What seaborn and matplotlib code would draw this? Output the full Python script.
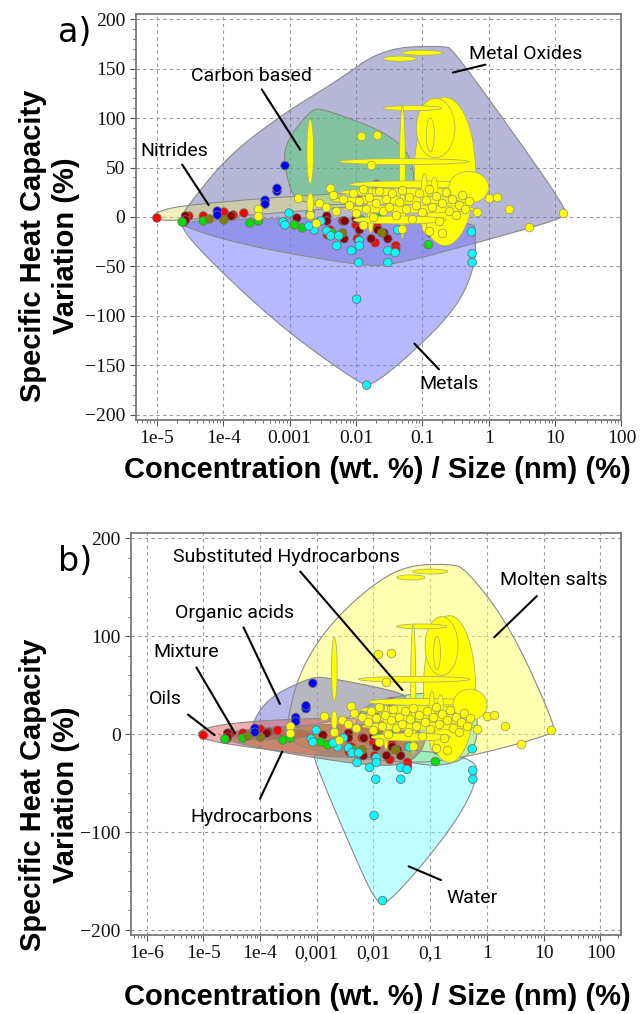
import numpy as np
import pandas as pd
import matplotlib
matplotlib.use("Agg")
import matplotlib.pyplot as plt
import seaborn as sns
from matplotlib.ticker import FixedLocator, LogLocator, NullFormatter, MultipleLocator

# ---- data: (log10 concentration, variation %) ----
red = [(-5.0, -1), (-4.59, -5), (-4.52, 1), (-4.3, 1), (-3.99, 5), (-3.85, 2), (-3.69, 4),
       (-2.39, -13), (-2.2, -4), (-1.98, -22), (-1.71, -26), (-1.4, -29), (-1.4, -33),
       (-1.95, 17), (-2.0, -8), (-1.68, -10), (-2.43, -18)]
darkred = [(-4.57, 1), (-4.57, -3), (-3.88, 1), (-2.89, -1), (-2.44, 1), (-2.44, -4),
           (-2.17, -4), (-1.95, -13), (-1.8, -4), (-1.67, -13), (-1.58, -16), (-1.52, -22),
           (-0.88, -16), (-2.18, -22), (-1.77, -22), (-2.0, -2)]
green = [(-4.3, -4), (-3.6, -6), (-3.47, -4), (-2.93, -8), (-2.81, -11), (-1.92, -3),
         (-1.64, -1), (-0.91, -28), (-0.75, -21), (-2.36, -16), (-4.62, -5)]
olive = [(-4.21, -2), (-3.99, -3), (-2.2, -16), (-1.61, -16)]
blue = [(-3.07, 52), (-3.19, 26), (-3.19, 29), (-3.37, 17), (-3.37, 13), (-4.09, 6), (-4.09, 2)]
cyan = [(-3.01, 4), (-3.1, -5), (-3.07, -8), (-2.69, 4), (-2.63, -13), (-2.44, -14),
        (-2.38, -19), (-2.26, -19), (-2.07, -34), (-1.95, -24), (-1.95, -29), (-1.96, -46),
        (-1.99, -83), (-1.84, -170), (-1.52, -34), (-1.52, -46), (-1.41, -36), (-1.37, -13),
        (-0.26, -15), (-0.25, -37), (-0.25, -46), (-2.29, -29), (-2.53, -4), (-2.71, -9)]
teal = [(-0.51, 26), (-0.51, 17)]
magenta = [(-1.69, 33)]
yellow = [(-1.92, 82), (-1.69, 83), (-1.78, 53), (-2.39, 29), (-2.87, 19), (-3.48, 8),
          (-3.48, 1), (0.0, 19), (0.12, 20), (0.31, 8), (0.6, -10), (1.12, 4), (-0.17, 5),
          (-2.55, 14), (-2.45, 10), (-2.35, 22), (-2.3, 6), (-2.2, 18), (-2.1, 12), (-2.05, 24),
          (-2.0, 4), (-1.95, 16), (-1.9, 28), (-1.85, 8), (-1.8, 20), (-1.75, 0), (-1.7, 14),
          (-1.65, 26), (-1.6, 6), (-1.55, 18), (-1.5, 10), (-1.45, 24), (-1.4, 2), (-1.35, 15),
          (-1.3, 27), (-1.25, 8), (-1.2, 20), (-1.15, -2), (-1.1, 12), (-1.05, 24), (-1.0, 5),
          (-0.95, 17), (-0.9, 28), (-0.85, 10), (-0.8, 21), (-0.75, -4), (-0.7, 14), (-0.65, 25),
          (-0.6, 6), (-0.55, 18), (-0.5, 2), (-0.45, 12), (-0.4, 22), (-0.35, 8), (-0.3, 16),
          (-2.7, 2), (-2.6, -6), (-1.9, -8), (-1.3, -12), (-0.9, -14), (-0.7, -16)]

groups = {"red": red, "darkred": darkred, "green": green, "olive": olive, "blue": blue,
          "cyan": cyan, "teal": teal, "magenta": magenta, "yellow": yellow}
palette = {"red": "#ff0000", "darkred": "#8b0000", "green": "#00e000", "olive": "#808000",
           "blue": "#0000ff", "cyan": "#00ffff", "teal": "#008080", "magenta": "#ff00ff",
           "yellow": "#ffff00"}

# yellow error ellipses: centre log10 c, centre var, half-width (decades), half-height
ell_logc = [-1.34, -1.0, -0.66, -0.8, -0.88, -1.15, -1.3, -1.28, -2.69, -2.69, -1.15, -1.2,
            -1.3, -1.78, -0.97, -0.82, -1.3, -1.2, -1.34, -0.3]
ell_var = [160, 166, 46, 90, 83, 110, 45, 56, 66, 14, 33, 25, 17, 7, 14, 30, 6, 8, -3, 30]
ell_wdec = [0.25, 0.31, 0.46, 0.29, 0.06, 0.44, 0.045, 0.98, 0.05, 0.05, 0.95, 1.04, 1.07,
            0.05, 0.055, 0.05, 0.045, 1.0, 0.7, 0.3]
ell_hvar = [2.6, 2.5, 75, 30, 17, 2.5, 67, 3, 33, 10, 3.5, 4, 4, 23, 30, 10, 20, 4, 4, 16]

# hull outlines (log10 c, var)
hull_metal_oxides = [(-4.65, -1), (-4.47, 17), (-3.91, 63), (-3.06, 106), (-2.32, 136),
                     (-1.58, 171), (-0.66, 173), (-0.54, 169), (0.32, 90), (1.18, 7),
                     (1.15, -1), (-0.23, -27), (-1.46, -49), (-1.95, -49), (-3.67, -29),
                     (-4.65, -9)]
hull_metals = [(-4.65, -1), (-0.23, -3), (-0.2, -16), (-0.2, -49), (-0.48, -92), (-1.21, -141),
               (-1.77, -171), (-1.95, -168), (-3.06, -115), (-4.04, -55), (-4.59, -16)]
hull_carbon = [(-3.09, 73), (-2.69, 108), (-2.5, 110), (-1.34, 80), (-1.09, 44), (-1.21, 17),
               (-2.44, 11), (-2.93, 17), (-3.06, 44)]
hull_nitrides = [(-5.1, 0), (-4.9, 8), (-4.4, 13), (-3.0, 21), (-1.5, 26), (-0.3, 28),
                 (-0.2, 22), (-1.5, 14), (-3.0, 5), (-4.4, -2), (-4.9, -4)]

hull_molten = [(-3.54, 8), (-3.32, 62), (-2.82, 109), (-2.1, 149), (-1.45, 172), (-0.66, 174),
               (-0.37, 169), (0.42, 109), (1.21, 8), (1.14, -1), (-0.66, -28), (-1.74, -29),
               (-3.11, -16), (-3.5, -6)]
hull_organic = [(-4.12, 14), (-3.83, 38), (-3.11, 58), (-2.82, 58), (-1.52, 43), (-1.38, 35),
                (-2.1, 21), (-3.54, 4), (-4.12, 4)]
hull_water = [(-3.11, -12), (-0.23, -19), (-0.16, -49), (-0.66, -100), (-1.74, -174),
              (-1.96, -172), (-2.39, -117), (-2.96, -39)]
hull_oils = [(-5.15, 0), (-4.9, 8), (-4.0, 14), (-2.5, 17), (-1.5, 12), (-1.2, 0), (-1.5, -22),
             (-2.5, -25), (-4.0, -15), (-4.9, -7)]
hull_hydro = [(-4.7, -3), (-4.3, 5), (-3.0, 10), (-1.6, 10), (-1.0, 0), (-1.3, -30), (-2.0, -33),
              (-3.5, -20), (-4.5, -8)]
hull_mixture = [(-4.75, 0), (-4.3, 4), (-3.6, 6), (-3.0, 3), (-3.2, -5), (-4.3, -6)]
hull_subst = [(-2.3, 30), (-1.0, 45), (-0.2, 35), (-0.15, -10), (-0.5, -30), (-1.2, -33),
              (-2.3, -10)]

ticks_a = ["1e-5", "1e-4", "0.001", "0.01", "0.1", "1", "10", "100"]
ticks_b = ["1e-6", "1e-5", "1e-4", "0,001", "0,01", "0,1", "1", "10", "100"]


def smooth(pts, n=3):
    p = np.array(pts, dtype=float)
    for _ in range(n):
        q = np.roll(p, -1, axis=0)
        p = np.vstack([np.column_stack([0.75 * p[:, 0] + 0.25 * q[:, 0], 0.75 * p[:, 1] + 0.25 * q[:, 1]]),
                       np.column_stack([0.25 * p[:, 0] + 0.75 * q[:, 0], 0.25 * p[:, 1] + 0.75 * q[:, 1]])])
        p = p.reshape(2, -1, 2).transpose(1, 0, 2).reshape(-1, 2)
    return p


def hull(ax, pts, color, alpha=0.5):
    p = smooth(pts)
    ax.fill(10 ** p[:, 0], p[:, 1], fc=color, alpha=alpha, ec="none", zorder=1)
    ax.fill(10 ** p[:, 0], p[:, 1], fc="none", ec="#8a8a8a", lw=0.8, zorder=1.1)


def label(ax, text, txy, start, end):
    ax.text(10 ** txy[0], txy[1], text, fontsize=14, family="Roboto", color="black",
            ha="center", va="center", zorder=6)
    ax.plot([10 ** start[0], 10 ** end[0]], [start[1], end[1]], color="black", lw=1.5, zorder=6)


rows = []
for g, pts in groups.items():
    for lc, v in pts:
        rows.append({"conc": 10 ** lc, "var": v, "group": g})
df = pd.DataFrame(rows)

sns.set_style("ticks")
fig = plt.figure(figsize=(6.4, 10.14), dpi=100)
ax_a = fig.add_axes([0.212, 0.586, 0.759, 0.400])
ax_b = fig.add_axes([0.205, 0.078, 0.766, 0.396])

hull(ax_a, hull_metal_oxides, "#7070b0")
hull(ax_a, hull_metals, "#7373ff")
hull(ax_a, hull_carbon, "#50d070")
hull(ax_a, hull_nitrides, "#e0e080")

hull(ax_b, hull_molten, "#ffff66")
hull(ax_b, hull_water, "#80ffff")
hull(ax_b, hull_subst, "#80e0a0")
hull(ax_b, hull_organic, "#6060d0", 0.45)
hull(ax_b, hull_oils, "#e06060")
hull(ax_b, hull_hydro, "#a05020", 0.45)
hull(ax_b, hull_mixture, "#804040", 0.3)

t = np.linspace(0, 2 * np.pi, 80)
for ax in (ax_a, ax_b):
    sns.scatterplot(data=df[df.group != "yellow"], x="conc", y="var", hue="group",
                    palette=palette, s=38, edgecolor="#707070", linewidth=0.6,
                    legend=False, ax=ax, zorder=3)
    for cx, cy, w, h in zip(ell_logc, ell_var, ell_wdec, ell_hvar):
        ax.fill(10 ** (cx + w * np.cos(t)), cy + h * np.sin(t), fc="#ffff00",
                ec="#b0b070", lw=0.6, zorder=4)
    sns.scatterplot(data=df[df.group == "yellow"], x="conc", y="var", color="#ffff00",
                    s=38, edgecolor="#a0a060", linewidth=0.6, legend=False, ax=ax, zorder=5)
    ax.set_xscale("log")
    ax.set_ylim(-205, 205)
    ax.yaxis.set_major_locator(MultipleLocator(50 if ax is ax_a else 100))
    ax.yaxis.set_minor_locator(MultipleLocator(10 if ax is ax_a else 20))
    ax.xaxis.set_minor_locator(LogLocator(base=10, subs=np.arange(2, 10), numticks=20))
    ax.xaxis.set_minor_formatter(NullFormatter())
    ax.grid(True, which="major", ls=(0, (3, 3)), color="#9a9a9a", lw=0.8)
    ax.set_axisbelow(True)
    ax.set_xlabel("")
    ax.set_ylabel("")
    for s in ax.spines.values():
        s.set_color("#7a7a7a")
        s.set_linewidth(1.3)
    ax.tick_params(axis="both", which="major", length=4, color="#555555", labelcolor="#111111")
    ax.tick_params(axis="both", which="minor", length=2, color="#555555")

ax_a.set_xlim(10 ** -5.32, 100)
ax_a.xaxis.set_major_locator(FixedLocator([10.0 ** k for k in range(-5, 3)]))
ax_a.set_xticklabels(ticks_a)
ax_b.set_xlim(10 ** -6.27, 10 ** 2.37)
ax_b.xaxis.set_major_locator(FixedLocator([10.0 ** k for k in range(-6, 3)]))
ax_b.set_xticklabels(ticks_b)
for ax in (ax_a, ax_b):
    for lab in ax.get_xticklabels() + ax.get_yticklabels():
        lab.set_family("Liberation Serif")
        lab.set_fontsize(14)

label(ax_a, "Metal Oxides", (0.55, 165), (-0.05, 154), (-0.54, 146))
label(ax_a, "Carbon based", (-3.58, 143), (-3.42, 129), (-2.84, 68))
label(ax_a, "Nitrides", (-4.74, 67), (-4.62, 53), (-4.22, 12))
label(ax_a, "Metals", (-0.6, -169), (-0.75, -154), (-1.12, -128))

label(ax_b, "Substituted Hydrocarbons", (-3.54, 181), (-3.29, 166), (-1.49, 45))
label(ax_b, "Molten salts", (1.17, 157), (0.88, 141), (0.13, 99))
label(ax_b, "Organic acids", (-4.44, 124), (-4.29, 109), (-3.65, 31))
label(ax_b, "Mixture", (-5.3, 84), (-5.12, 68), (-4.44, 1))
label(ax_b, "Oils", (-5.66, 36), (-5.27, 20), (-4.8, -1))
label(ax_b, "Hydrocarbons", (-4.15, -85), (-4.0, -66), (-3.61, -18))
label(ax_b, "Water", (-0.27, -167), (-0.81, -149), (-1.38, -135))

ylab = "Specific Heat Capacity\nVariation (%)"
xlab = "Concentration (wt. %) / Size (nm) (%)"
for yc, xc_y in ((0.758, 0.536), (0.216, 0.017)):
    fig.text(0.077, yc, ylab, rotation=90, ha="center", va="center", fontsize=21,
             fontweight="bold", family="Liberation Sans", linespacing=1.25, color="black")
    fig.text(0.59, xc_y, xlab, ha="center", va="center", fontsize=21,
             fontweight="bold", family="Liberation Sans", color="black")
fig.text(0.117, 0.968, "a)", fontsize=24, ha="center", va="center", family="DejaVu Sans",
         color="black")
fig.text(0.117, 0.446, "b)", fontsize=24, ha="center", va="center", family="DejaVu Sans",
         color="black")

fig.savefig("out.png", dpi=100)
